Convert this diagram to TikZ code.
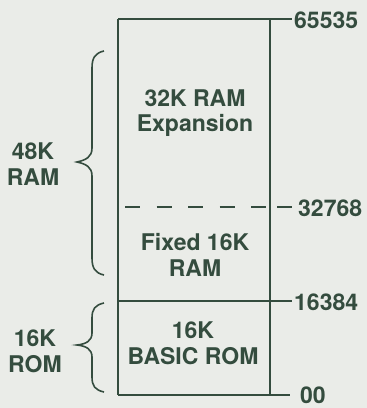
\documentclass[tikz,border=0pt]{standalone}
\usepackage{fontspec}
\setmainfont{TeX Gyre Heros}
\definecolor{ink}{RGB}{52,76,62}
\definecolor{bg}{RGB}{234,236,232}
\begin{document}
\begin{tikzpicture}[x=1pt,y=-1pt,
  line/.style={draw=ink,line width=1.8pt},
  lbl/.style={text=ink,font=\fontsize{23}{25.5}\selectfont\bfseries,align=center,inner sep=0pt},
  val/.style={text=ink,font=\fontsize{23}{25}\selectfont\bfseries,anchor=west,inner sep=0pt},
  brace/.style={draw=ink,line width=1.6pt}]
\fill[bg] (0,0) rectangle (367,408);
\useasboundingbox (0,0) rectangle (367,408);
% box
\coordinate (tl) at (118,19);
\coordinate (tr) at (270,19);
\coordinate (bl) at (118,395);
\coordinate (br) at (270,395);
\coordinate (ml) at (118,301);
\coordinate (mr) at (270,301);
\coordinate (dl) at (118,207);
\coordinate (dr) at (270,207);
\coordinate (ttick) at (292,19);
\coordinate (mtick) at (292,301);
\coordinate (btick) at (290,395);
\coordinate (dt1) at (277,207);
\coordinate (dt2) at (292,207);
\draw[line] (tl) -- (ttick);
\draw[line] (tl) -- (bl);
\draw[line] (tr) -- (br);
\draw[line] (bl) -- (btick);
\draw[line] (ml) -- (mtick);
\draw[line,dash pattern=on 15pt off 16.5pt,dash phase=-7pt] (dl) -- (dr);
\draw[line] (dt1) -- (dt2);
% values
\node[val] (v1) at (294,20) {65535};
\node[val] (v2) at (298,208) {32768};
\node[val] (v3) at (294,302) {16384};
\node[val] (v4) at (300,395) {00};
% box texts
\node[lbl] (t1) at (195,113) {32K RAM\\Expansion};
\node[lbl] (t2) at (195,255) {Fixed 16K\\RAM};
\node[lbl] (t3) at (193,343) {16K\\BASIC ROM};
% side labels
\node[lbl] (s1) at (33,164) {48K\\RAM};
\node[lbl] (s2) at (35,351) {16K\\ROM};
% braces
\draw[brace] (104,51) .. controls (95,53) and (92,58) .. (92,68)
  -- (92,148) .. controls (92,157) and (86,160) .. (77,162)
  .. controls (86,164) and (92,167) .. (92,176)
  -- (92,258) .. controls (92,268) and (95,273) .. (104,275);
\draw[brace] (104,303) .. controls (95,305) and (92,309) .. (92,318)
  -- (92,333) .. controls (92,341) and (86,344) .. (77,345)
  .. controls (86,346) and (92,349) .. (92,357)
  -- (92,377) .. controls (92,386) and (95,390) .. (104,392);
\end{tikzpicture}
\end{document}
